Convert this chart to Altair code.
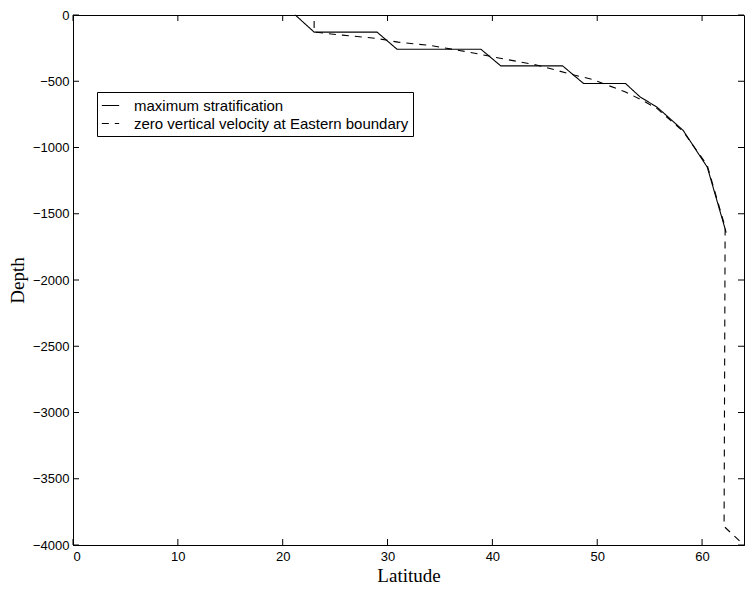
import altair as alt
import pandas as pd

# --- data ---
strat_lat = [21.2, 23.0, 29.0, 30.9, 38.9, 40.8, 46.7, 48.7, 52.7, 54.1, 55.7, 58.2, 60.5, 62.3]
strat_depth = [0, -129, -129, -258, -258, -384, -384, -517, -517, -619, -695, -871, -1149, -1642]

zero_lat = [23.0, 23.0, 25.7, 29.0, 31.0, 34.2, 37.6, 41.0, 44.3, 47.9, 49.5, 52.7, 54.1, 55.7, 58.2, 60.5, 62.2, 62.1, 64.0]
zero_depth = [-45, -129, -152, -177, -205, -231, -278, -330, -379, -455, -485, -581, -636, -705, -879, -1136, -1600, -3860, -4000]

series_names = ["maximum stratification", "zero vertical velocity at Eastern boundary"]
x_ticks = [0, 10, 20, 30, 40, 50, 60]
y_ticks = [0, -500, -1000, -1500, -2000, -2500, -3000, -3500, -4000]

W, H = 671, 530

rows = []
for i, (a, b) in enumerate(zip(strat_lat, strat_depth)):
    rows.append({"lat": a, "depth": b, "series": series_names[0], "i": i})
for i, (a, b) in enumerate(zip(zero_lat, zero_depth)):
    rows.append({"lat": a, "depth": b, "series": series_names[1], "i": i})
df = pd.DataFrame(rows)

xs = alt.Scale(domain=[0, 64], nice=False, zero=False)
ys = alt.Scale(domain=[-4000, 0], nice=False, zero=False)

x_axis = alt.Axis(values=x_ticks, ticks=False, grid=False, labelPadding=5,
                  titlePadding=3, format="d")
y_axis = alt.Axis(values=y_ticks, ticks=False, grid=False, labelPadding=4,
                  titlePadding=5, format="d")

leg = dict(orient="none", legendX=24, legendY=77,
           symbolType="stroke", symbolSize=300, symbolStrokeWidth=1.1, symbolStrokeColor="black",
           fillColor="white", strokeColor="black", padding=4,
           labelFont="Liberation Sans", labelFontSize=15,
           labelColor="black", rowPadding=0, labelOffset=14, labelLimit=500)

lines = alt.Chart(df).mark_line(strokeWidth=1.1).encode(
    x=alt.X("lat:Q", scale=xs, title="Latitude", axis=x_axis),
    y=alt.Y("depth:Q", scale=ys, title="Depth", axis=y_axis),
    color=alt.Color("series:N", scale=alt.Scale(domain=series_names, range=["black", "black"]),
                    title=None, legend=alt.Legend(**leg)),
    strokeDash=alt.StrokeDash("series:N", scale=alt.Scale(domain=series_names, range=[[1, 0], [7, 6]]),
                              title=None, legend=alt.Legend(**leg)),
    order="i:Q",
)

xt = pd.DataFrame({"v": x_ticks})
yt = pd.DataFrame({"v": y_ticks})

bx = alt.Chart(xt).mark_rule(color="black", strokeWidth=1).encode(
    x=alt.X("v:Q", scale=xs, title="Latitude", axis=x_axis), y=alt.value(H), y2=alt.value(H - 6))
tx = alt.Chart(xt).mark_rule(color="black", strokeWidth=1).encode(
    x=alt.X("v:Q", scale=xs, title="Latitude", axis=x_axis), y=alt.value(0), y2=alt.value(6))
ly = alt.Chart(yt).mark_rule(color="black", strokeWidth=1).encode(
    y=alt.Y("v:Q", scale=ys, title="Depth", axis=y_axis), x=alt.value(0), x2=alt.value(6))
ry = alt.Chart(yt).mark_rule(color="black", strokeWidth=1).encode(
    y=alt.Y("v:Q", scale=ys, title="Depth", axis=y_axis), x=alt.value(W), x2=alt.value(W - 6))

chart = alt.layer(lines, bx, tx, ly, ry).properties(
    width=W, height=H,
    padding={"left": 73, "top": 15, "right": 8, "bottom": 47},
    autosize="none",
    background="white",
).configure_view(stroke="black", strokeWidth=1).configure_axis(
    domainColor="black", domainWidth=1,
    labelFont="Liberation Sans", labelFontSize=13, labelColor="black",
    titleFont="Liberation Serif", titleFontSize=19, titleFontWeight="normal", titleColor="black",
)

chart.save("out.html", embed_options={"renderer": "svg", "actions": False})
